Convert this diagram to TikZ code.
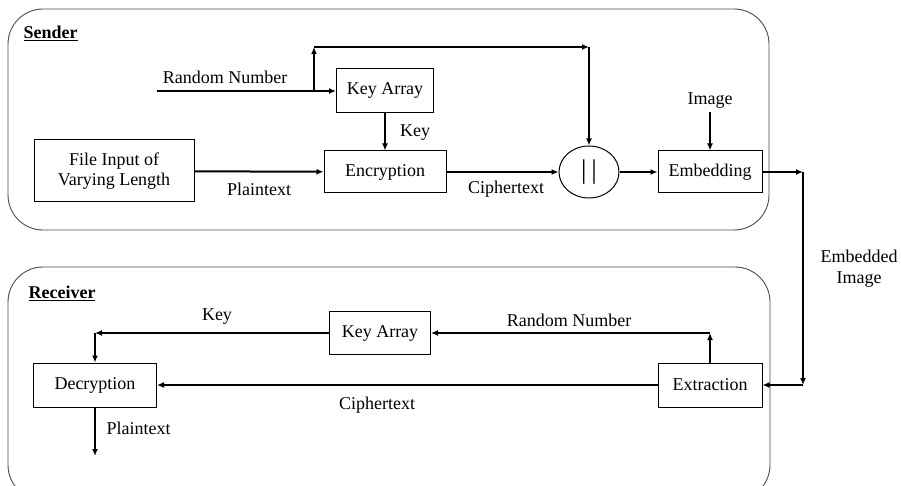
\documentclass[tikz,border=0pt]{standalone}
\usepackage{fontspec}
\setmainfont{Liberation Serif}
\usetikzlibrary{arrows.meta,shapes.geometric}

\tikzset{
  block/.style={draw, line width=1pt, inner sep=0pt, align=center},
  flow/.style={line width=2pt, -{Latex[length=7pt,width=6pt]}},
  panel/.style={draw=black!70, line width=0.9pt, rounded corners=35pt}
}

\begin{document}
\begin{tikzpicture}[x=1pt, y=-1pt, font=\fontsize{18}{20}\selectfont]
            \useasboundingbox (0,0) rectangle (901,486);
            \clip (0,0) rectangle (901,486);

            % the two panels
            \draw[panel] (8,9) rectangle (769,230);
            \draw[panel] (8,267) rectangle (770,500);
            \node[anchor=west] (sender) at (20,33) {\underline{\textbf{Sender}}};
            \node[anchor=west] (receiver) at (25,293) {\underline{\textbf{Receiver}}};

            % sender side
            \node[block, minimum width=160, minimum height=62] (file) at (114,171) {File Input of\\Varying Length};
            \node[block, minimum width=97, minimum height=44] (keyS) at (385,91) {Key Array};
            \node[block, minimum width=122, minimum height=42] (enc) at (385,172) {Encryption};
            \node[draw, ellipse, line width=1pt, inner sep=0pt, minimum width=60, minimum height=52] (cat) at (589,172) {\fontsize{27}{27}\selectfont |\hspace{5pt}|};
            \node[block, minimum width=104, minimum height=42] (emb) at (710,172) {Embedding};
            \node (image) at (710,101) {Image};

            \coordinate (rnIn) at (157,91);
            \coordinate (rnSplit) at (314,91);
            \coordinate (rnUp) at (314,47);
            \coordinate (rnTop) at (589,47);
            \coordinate (embOut) at (803,172);
            \coordinate (extIn) at (803,385);

            \draw[flow] (rnIn) -- (keyS);
            \draw[flow] (rnSplit) -- (rnUp);
            \draw[flow] (rnUp) -- (rnTop);
            \draw[flow] (rnTop) -- (cat);
            \draw[flow] (keyS) -- (enc);
            \draw[flow] (file) -- (enc);
            \draw[flow] (enc) -- (cat);
            \draw[flow] (cat) -- (emb);
            \draw[flow] (image) -- (emb);
            \draw[flow] (emb) -- (embOut);
            \draw[flow] (embOut) -- (extIn);

            \node (lRandS) at (225,77) {Random Number};
            \node (lKeyS) at (415,133) {Key};
            \node (lPlainS) at (259,189) {Plaintext};
            \node (lCipherS) at (506,189) {Ciphertext};
            \node[align=center, font=\fontsize{18}{21}\selectfont] (lEmbImg) at (859,269) {Embedded\\Image};

            % receiver side
            \node[block, minimum width=101, minimum height=43] (keyR) at (380,333) {Key Array};
            \node[block, minimum width=123, minimum height=44] (dec) at (95,385) {Decryption};
            \node[block, minimum width=104, minimum height=44] (ext) at (710,385) {Extraction};

            \coordinate (rnR) at (710,333);
            \coordinate (keyCorner) at (95,333);
            \coordinate (plainOut) at (95,456);

            \draw[flow] (extIn) -- (ext);
            \draw[flow] (ext) -- (rnR);
            \draw[flow] (rnR) -- (keyR);
            \draw[flow] (keyR) -- (keyCorner);
            \draw[flow] (keyCorner) -- (dec);
            \draw[flow] (ext) -- (dec);
            \draw[flow] (dec) -- (plainOut);

            \node (lKeyR) at (217,317) {Key};
            \node (lRandR) at (569,320) {Random Number};
            \node (lCipherR) at (377,405) {Ciphertext};
            \node[anchor=west] (lPlainR) at (103,428) {Plaintext};
        \end{tikzpicture}
\end{document}
